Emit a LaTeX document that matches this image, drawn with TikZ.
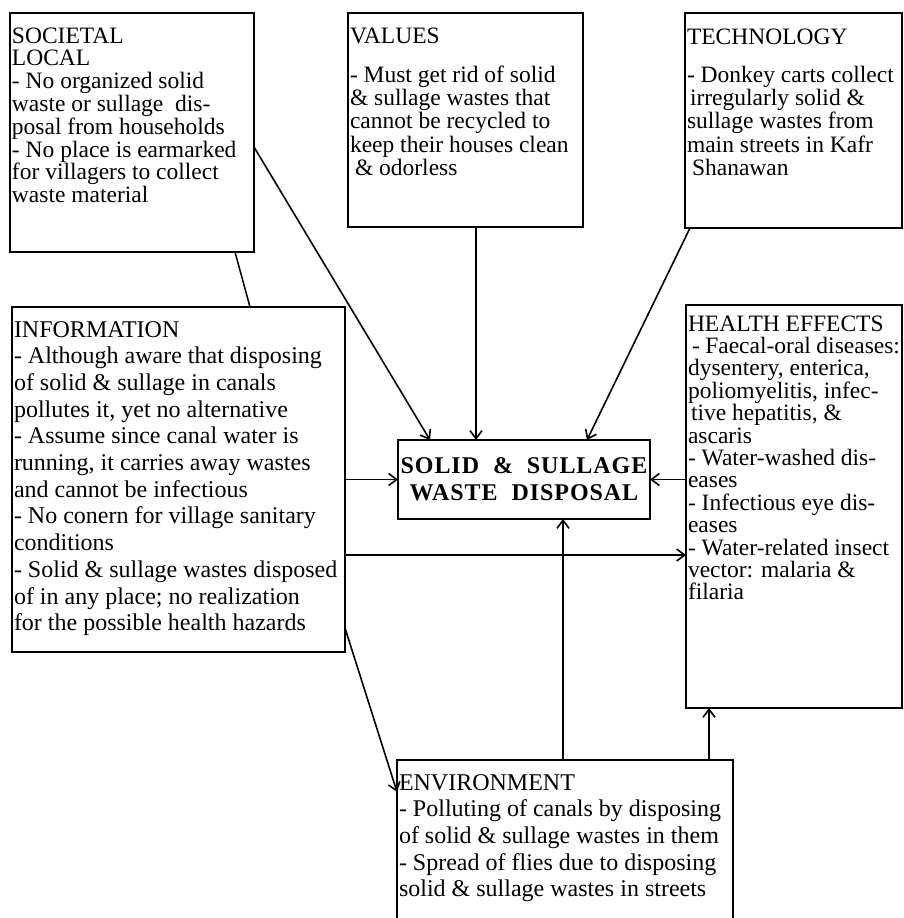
\documentclass[tikz,border=0pt]{standalone}
\usepackage{fontspec}
\setmainfont{Liberation Serif}
\usetikzlibrary{arrows.meta}
\newcommand\bxt[6]{\parbox[c][#2][t]{#1}{\fontsize{#3}{#4}\selectfont\raggedright\rule{0pt}{#5}#6}}
\tikzset{
  box/.style={draw, line width=1.8pt, inner xsep=2pt, inner ysep=0pt, outer sep=0pt, anchor=north west},
  arr/.style={line width=1.6pt, -{Straight Barb[length=8pt,width=12pt,line width=1.6pt]}},
  ln/.style={line width=1.5pt}
}
\begin{document}
\begin{tikzpicture}[x=1pt,y=-1pt]
\clip (0,0) rectangle (903,918);
\useasboundingbox (0,0) rectangle (903,918);
\fill[white] (0,0) rectangle (903,918);

\node[box] (soc) at (10,13) {\bxt{240pt}{239pt}{23.5}{22.8}{30pt}{SOCIETAL\\
LOCAL\\
- No organized solid\\
waste or sullage\ \ dis-\\
posal from households\\
- No place is earmarked\\
for villagers to collect\\
waste material}};

\node[box] (val) at (348,13) {\bxt{231pt}{214pt}{23.5}{23.3}{30pt}{VALUES\\[16pt]
- Must get rid of solid\\
\& sullage wastes that\\
cannot be recycled to\\
keep their houses clean\\
\hspace*{5pt}\& odorless}};

\node[box] (tec) at (685,13) {\bxt{213pt}{215pt}{23.5}{23.3}{31pt}{TECHNOLOGY\\[15pt]
- Donkey carts collect\\
\hspace*{3pt}irregularly solid \&\\
sullage wastes from\\
main streets in Kafr\\
\hspace*{5pt}Shanawan}};

\node[box] (inf) at (12,307) {\bxt{329pt}{345pt}{24}{26.7}{30pt}{INFORMATION\\
- Although aware that disposing\\
of solid \& sullage in canals\\
pollutes it, yet no alternative\\
- Assume since canal water is\\
running, it carries away wastes\\
and cannot be infectious\\
- No conern for village sanitary\\
conditions\\
- Solid \& sullage wastes disposed\\
of in any place; no realization\\
for the possible health hazards}};

\node[box] (hea) at (686,305) {\bxt{212pt}{403pt}{23.5}{22.4}{26pt}{HEALTH EFFECTS\\
\hspace*{4pt}- Faecal-oral diseases:\\
dysentery, enterica,\\
poliomyelitis, infec-\\
\hspace*{3pt}tive hepatitis, \&\\
ascaris\\
- Water-washed dis-\\
eases\\
- Infectious eye dis-\\
eases\\
- Water-related insect\\
vector: malaria \&\\
filaria}};

\node[box] (env) at (397,760) {\bxt{332pt}{200pt}{24}{26.7}{30pt}{ENVIRONMENT\\
- Polluting of canals by disposing\\
of solid \& sullage wastes in them\\
- Spread of flies due to disposing\\
solid \& sullage wastes in streets}};

\node[draw, line width=1.8pt, inner sep=0pt, outer sep=0pt, anchor=north west,
  minimum width=252pt, minimum height=79pt, align=center,
  font={\fontsize{24}{27}\selectfont\bfseries\addfontfeature{LetterSpace=4}}]
  (cen) at (398,440) {SOLID\ \ \&\ \ SULLAGE\\WASTE\ \ DISPOSAL};

% connectors
\draw[arr] ([yshift=-134pt]soc.north east) -- ([xshift=32pt]cen.north west);
\draw[arr] ([xshift=128pt]val.south west) coordinate (v1) -- (v1 |- cen.north);
\draw[arr] ([xshift=5pt]tec.south west) -- ([xshift=189pt]cen.north west);
\draw[ln] ([xshift=225pt]soc.south west) -- ([xshift=238pt]inf.north west);
\draw[arr] (cen.west -| inf.east) -- (cen.west);
\draw[arr] (cen.east -| hea.west) -- (cen.east);
\draw[arr] ([yshift=-248pt]inf.north east) coordinate (i1) -- (i1 -| hea.west);
\draw[arr] ([xshift=166pt]env.north west) coordinate (e1) -- (e1 |- cen.south);
\draw[arr] ([xshift=312pt]env.north west) coordinate (e2) -- (e2 |- hea.south);
\draw[arr] ([yshift=24pt]inf.south east) -- ([yshift=-32pt]env.north west);
\end{tikzpicture}
\end{document}
